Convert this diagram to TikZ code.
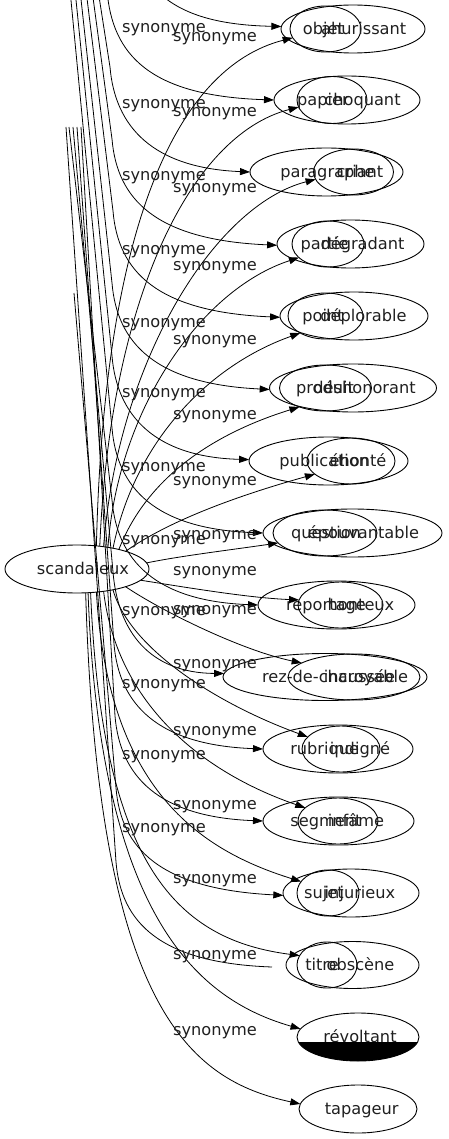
\documentclass[tikz,border=0pt]{standalone}
\usepackage{fontspec}
\setmainfont{DejaVu Sans}
\usetikzlibrary{shapes.geometric,arrows.meta}
\newcommand{\mkell}[7]{\node[ell, minimum width=#4pt, minimum height=#5pt, label={[xshift=#7pt]center:#6}] (#1) at (#2,#3) {};}
\begin{document}
\begin{tikzpicture}[x=1pt,y=-1pt,
  every node/.style={font=\fontsize{16.2}{19}\selectfont, text=black!88},
  every label/.style={inner sep=0pt, text height=15pt, text depth=4pt},
  ell/.style={draw, ellipse, inner sep=0pt, outer sep=0pt, line width=0.9pt},
  lbl/.style={inner sep=0pt, anchor=center},
  e/.style={line width=0.8pt, -{Triangle[length=10pt,width=7pt]}},
  ea/.style={line width=0.8pt}]
\useasboundingbox (0,0) rectangle (448,1139);
\clip (0,0) rectangle (448,1139);
% nodes
\mkell{nsc}{77}{569}{144}{48}{scandaleux}{6}
\mkell{nob}{325.5}{29}{71}{46}{objet}{-2}
\mkell{nah}{353}{29}{144}{48}{ahurissant}{10.7}
\mkell{npa}{332}{100}{70}{47}{papier}{-9}
\mkell{nch}{347}{100}{146}{48}{choquant}{15.5}
\mkell{npg}{326.5}{172}{153}{48}{paragraphe}{1}
\mkell{ncr}{353.5}{172}{80}{46}{criant}{6.5}
\mkell{npt}{328}{244}{72}{46}{partie}{-3.5}
\mkell{ndg}{350.5}{244}{147}{48}{dégradant}{12}
\mkell{npo}{325.5}{316}{75}{46}{point}{-2.5}
\mkell{ndp}{354}{316}{148}{48}{déplorable}{9.4}
\mkell{npr}{325.5}{388}{92}{46}{produit}{-0.5}
\mkell{nds}{353}{388}{167}{48}{déshonorant}{11.5}
\mkell{npu}{328.5}{461}{159}{48}{publication}{-4.2}
\mkell{neh}{351}{461}{88}{46}{éhonté}{7}
\mkell{nqu}{325}{533}{104}{46}{question}{1}
\mkell{nep}{352.5}{533}{179}{48}{épouvantable}{11}
\mkell{nre}{336.5}{605}{157}{48}{reportage}{-10.5}
\mkell{nho}{340.5}{605}{85}{46}{honteux}{20.5}
\mkell{nrz}{325}{677}{204}{47}{rez-de-chaussée}{3.5}
\mkell{nin}{354}{677}{132}{46}{incroyable}{12}
\mkell{nru}{338}{749}{150}{48}{rubrique}{-13.3}
\mkell{nig}{341}{749}{78}{46}{indigné}{19}
\mkell{nse}{338.5}{821}{151}{48}{segment}{-12.5}
\mkell{nif}{338}{821}{80}{46}{infâme}{18}
\mkell{nsu}{328}{893}{62}{46}{sujet}{-4}
\mkell{nij}{351}{893}{136}{48}{injurieux}{9}
\mkell{nti}{327}{965}{60}{46}{titre}{-5}
\mkell{nobs}{352.5}{965}{133}{47}{obscène}{8}
\mkell{nrv}{358}{1037}{122}{48}{révoltant}{2}
\mkell{nta}{358}{1109}{118}{48}{tapageur}{3.7}
% black lower part of revoltant
\begin{scope}
\clip (nrv.center) ellipse [x radius=61pt, y radius=24pt];
\fill[black] (290,1042) rectangle (425,1065);
\end{scope}
% free ends of the bundle
\coordinate (t0) at (120,-120);
\coordinate (t1) at (107,-10);
\coordinate (t2) at (98,-10);
\coordinate (t3) at (92,-10);
\coordinate (t4) at (86,-10);
\coordinate (t5) at (80,-10);
\coordinate (t6) at (75,-10);
\coordinate (t7) at (70,-10);
\coordinate (t8) at (69,127);
\coordinate (t9) at (73,127);
\coordinate (t10) at (77,127);
\coordinate (t11) at (81,127);
\coordinate (t12) at (74,293);
\coordinate (t13) at (66,127);
\coordinate (oe) at (272,967);
% rising edges from scandaleux
\draw[e] (nsc.50) .. controls (104,230) and (175,68) .. (nob.195);
\draw[e] (nsc.45) .. controls (110,300) and (190,135) .. (npa.192);
\draw[e] (nsc.40) .. controls (118,360) and (215,205) .. (ncr.191);
\draw[e] (nsc.35) .. controls (118,410) and (200,290) .. (npt.205);
\draw[e] (nsc.30) .. controls (135,440) and (210,365) .. (npo.214);
\draw[e] (nsc.25) .. controls (150,470) and (225,430) .. (npr.216);
\draw[e] (nsc.20) .. controls (170,520) and (240,495) .. (neh.200);
\draw[e] (nsc.5) .. controls (180,556) and (230,550) .. (nqu.192);
% descending edges from scandaleux
\draw[e] (nsc.-10) .. controls (190,588) and (250,598) .. (nho.173);
\draw[e] (nsc.-20) .. controls (160,610) and (240,650) .. (nin.165);
\draw[e] (nsc.-30) .. controls (130,650) and (220,705) .. (nig.160);
\draw[e] (nsc.-40) .. controls (118,710) and (210,775) .. (nif.158);
\draw[e] (nsc.-50) .. controls (108,790) and (200,850) .. (nsu.157);
\draw[e] (nsc.-60) .. controls (102,870) and (180,940) .. (nti.161);
\draw[e] (nsc.-65) .. controls (100,920) and (200,1000) .. (nrv.172);
\draw[e] (nsc.-70) .. controls (98,1010) and (190,1080) .. (nta.175);
% hooked edges of the bundle
\draw[e] (t0) .. controls (125,-20) and (160,24) .. (nah.178);
\draw[e] (t1) .. controls (112,55) and (150,96) .. (nch.180);
\draw[e] (t2) -- (110,67) .. controls (115,127) and (153,168) .. (npg.180);
\draw[e] (t3) -- (112,139) .. controls (117,199) and (155,240) .. (ndg.181);
\draw[e] (t4) -- (113,211) .. controls (118,271) and (156,312) .. (ndp.181);
\draw[e] (t5) -- (112,283) .. controls (117,343) and (155,384) .. (nds.181);
\draw[e] (t6) -- (112,356) .. controls (117,416) and (155,457) .. (npu.179);
\draw[e] (t7) -- (112,428) .. controls (117,488) and (155,529) .. (nep.180);
\draw[e] (t8) -- (112,500) .. controls (117,560) and (155,601) .. (nre.180);
\draw[e] (t9) -- (113,572) .. controls (118,632) and (150,673) .. (nrz.178);
\draw[e] (t10) -- (114,644) .. controls (119,704) and (157,745) .. (nru.180);
\draw[e] (t11) -- (115,716) .. controls (120,776) and (158,817) .. (nse.180);
\draw[e] (t12) -- (116,788) .. controls (121,848) and (159,889) .. (nij.182);
\draw[ea] (t13) -- (116,862) .. controls (121,922) and (159,963) .. (oe);
% labels
\foreach \yy [count=\i] in {30,106,178,252,325,395,469,542,613,686,757,830}
  {\node[lbl] (la\i) at (164,\yy) {synonyme};}
\foreach \yy [count=\i] in {39,114,190,268,342,417,483,537,573,612,666,733,807,881,957,1033}
  {\node[lbl] (lb\i) at (215,\yy) {synonyme};}
\end{tikzpicture}
\end{document}
